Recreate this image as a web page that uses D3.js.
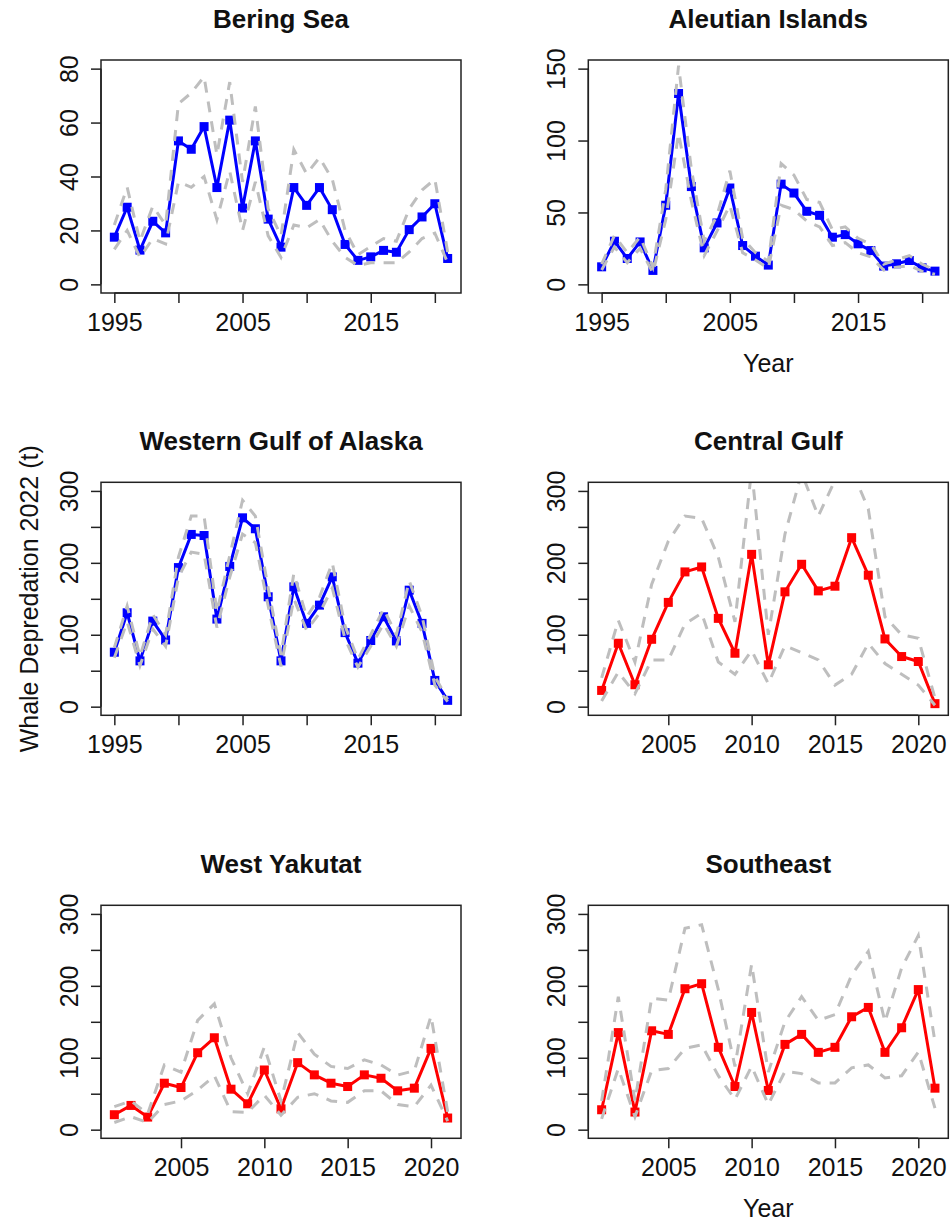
<!DOCTYPE html>
<html>
<head>
<meta charset="utf-8">
<script src="https://cdn.jsdelivr.net/npm/d3@7"></script>
<style>
  html, body { margin: 0; padding: 0; background: #fff; }
  svg { display: block; }
  text { font-family: "Liberation Sans", Arial, sans-serif; fill: #111; }
</style>
</head>
<body>
<svg id="chart" width="951" height="1221"></svg>
<script>
// ---------------- data ----------------
const titles = ["Bering Sea", "Aleutian Islands", "Western Gulf of Alaska", "Central Gulf", "West Yakutat", "Southeast"];

const yearsLong = [1995,1996,1997,1998,1999,2000,2001,2002,2003,2004,2005,2006,2007,2008,2009,2010,2011,2012,2013,2014,2015,2016,2017,2018,2019,2020,2021];
const yearsShort = [2001,2002,2003,2004,2005,2006,2007,2008,2009,2010,2011,2012,2013,2014,2015,2016,2017,2018,2019,2020,2021];

const beringEst = [17.5,28.6,12.7,23.4,19.1,53.2,50.1,58.5,35.9,60.9,28.3,53.2,24.2,13.8,35.9,29.3,35.9,27.7,14.8,8.9,10.2,12.6,11.9,20.3,25.0,29.9,9.6];
const beringHi  = [22,36,16,29,22,67,71,77,48,75,38,66,28,18,50,41,47,39,20,11,14,17,16,28,35,39,12];
const beringLo  = [13,20,10,17,15,38,36,40,24,42,20,38,18,10,22,21,24,16,10,7,8,8,8,12,17,19,8];

const aleutianEst = [12.2,30,18,29.5,9.7,55,132.7,68,25.4,42.7,67,27,19.6,13.4,69.7,63.5,50.8,48,32.8,34.6,28.2,23.5,12.7,14.3,16.6,11.5,9.2];
const aleutianHi  = [14,34,22,33,12,66,152,80,30,48,79,32,22,16,84,76,59,57,38,40,32,28,14,17,20,14,10];
const aleutianLo  = [10,26,15,25,8,45,105,58,20,37,55,22,17,11,55,52,44,40,27,29,22,19,10,12,13,9,7];

const wgoaEst = [75.7,130.6,63.7,119,92.8,193.4,239.5,238,121.8,195,262.6,247.4,152.8,63.7,166.6,115.8,141.2,180.5,103,60.5,92,125,91.4,162,115.8,36.5,8.8];
const wgoaHi  = [82,140,70,128,100,208,265,265,132,210,287,265,165,72,185,125,152,200,112,66,100,136,100,175,126,42,10];
const wgoaLo  = [68,118,57,108,84,180,215,212,110,180,240,228,140,56,150,106,130,165,94,55,84,115,84,140,104,30,7];

const cgoaEst = [22.6,88.2,30.5,93.7,145,187.4,194.3,122.8,74.3,211.8,58.2,159.7,198,161,167.5,235,182.8,94.2,69.7,62.8,4.2];
const cgoaHi  = [40,120,62,170,230,265,262,208,118,330,100,240,325,265,315,330,275,125,100,95,12];
const cgoaLo  = [8,48,18,65,65,115,130,62,45,78,32,85,75,65,30,45,88,60,45,30,2];

const wyEst = [20.8,33.7,17.5,64.6,58.6,107,127.8,56.3,36,83,29,93.2,76.2,64.6,60,76.2,71.5,54,57.7,113,16.2];
const wyHi  = [32,40,22,90,80,152,175,100,50,115,40,135,105,88,85,97,90,76,82,158,25];
const wyLo  = [10,18,10,35,40,55,75,25,24,48,20,45,50,40,38,54,54,35,32,62,12];

const seEst = [27.7,135,24.5,137.5,132.5,196,203,114.5,60,163,54.5,118.6,132.5,107.5,114.5,157,170,107.5,141.7,194.8,57.7];
const seHi  = [40,185,40,183,180,280,285,195,88,230,80,150,185,152,160,215,248,150,225,270,122];
const seLo  = [15,85,18,82,85,113,118,75,42,88,35,81,78,65,65,86,90,72,75,108,30];

const xTicksLong = [1995,2000,2005,2010,2015,2020];
const xLabelsLong = ["1995","","2005","","2015",""];
const xTicksShort = [2005,2010,2015,2020];
const xLabelsShort = ["2005","2010","2015","2020"];

const yTicksBering = [0,20,40,60,80];
const yLabelsBering = ["0","20","40","60","80"];
const yTicksAleutian = [0,50,100,150];
const yLabelsAleutian = ["0","50","100","150"];
const yTicks300 = [0,50,100,150,200,250,300];
const yLabels300 = ["0","","100","","200","","300"];

const yLimBering = [0,80];
const yLimAleutian = [0,150];
const yLim300 = [0,300];

const yAxisTitle = "Whale Depredation 2022 (t)";
const xAxisTitle = "Year";

// ---------------- panels ----------------
const panels = [
  {title: titles[0], years: yearsLong, est: beringEst, lo: beringLo, hi: beringHi, color: "#0000ff", ylim: yLimBering, yT: yTicksBering, yL: yLabelsBering, xT: xTicksLong, xL: xLabelsLong},
  {title: titles[1], years: yearsLong, est: aleutianEst, lo: aleutianLo, hi: aleutianHi, color: "#0000ff", ylim: yLimAleutian, yT: yTicksAleutian, yL: yLabelsAleutian, xT: xTicksLong, xL: xLabelsLong, xTitle: true},
  {title: titles[2], years: yearsLong, est: wgoaEst, lo: wgoaLo, hi: wgoaHi, color: "#0000ff", ylim: yLim300, yT: yTicks300, yL: yLabels300, xT: xTicksLong, xL: xLabelsLong, yTitle: true},
  {title: titles[3], years: yearsShort, est: cgoaEst, lo: cgoaLo, hi: cgoaHi, color: "#ff0000", ylim: yLim300, yT: yTicks300, yL: yLabels300, xT: xTicksShort, xL: xLabelsShort},
  {title: titles[4], years: yearsShort, est: wyEst, lo: wyLo, hi: wyHi, color: "#ff0000", ylim: yLim300, yT: yTicks300, yL: yLabels300, xT: xTicksShort, xL: xLabelsShort},
  {title: titles[5], years: yearsShort, est: seEst, lo: seLo, hi: seHi, color: "#ff0000", ylim: yLim300, yT: yTicks300, yL: yLabels300, xT: xTicksShort, xL: xLabelsShort, xTitle: true}
];

// ---------------- layout ----------------
const boxLeft = [101, 588.3];
const boxTop = [60, 482.3, 905.3];
const boxW = 360, boxH = 233;
const FONT = 25;

const svg = d3.select("#chart");

function padded(lo, hi) {
  const p = 0.04 * (hi - lo);
  return [lo - p, hi + p];
}

panels.forEach((p, i) => {
  const col = i % 2, row = Math.floor(i / 2);
  const g = svg.append("g").attr("transform", `translate(${boxLeft[col]},${boxTop[row]})`);

  const x = d3.scaleLinear().domain(padded(d3.min(p.years), d3.max(p.years))).range([0, boxW]);
  const y = d3.scaleLinear().domain(padded(p.ylim[0], p.ylim[1])).range([boxH, 0]);

  const clipId = "clip" + i;
  g.append("clipPath").attr("id", clipId).append("rect")
    .attr("x", 0).attr("y", 0).attr("width", boxW).attr("height", boxH);

  const plot = g.append("g").attr("clip-path", `url(#${clipId})`);
  const line = d3.line().x(d => x(d[0])).y(d => y(d[1]));

  // main series
  plot.append("path")
    .datum(p.years.map((yr, k) => [yr, p.est[k]]))
    .attr("d", line).attr("fill", "none")
    .attr("stroke", p.color).attr("stroke-width", 3).attr("stroke-linejoin", "round");
  plot.selectAll("rect.pt").data(p.years.map((yr, k) => [yr, p.est[k]])).join("rect")
    .attr("class", "pt")
    .attr("x", d => x(d[0]) - 4.5).attr("y", d => y(d[1]) - 4.5)
    .attr("width", 9).attr("height", 9).attr("fill", p.color);

  // confidence bounds
  [p.lo, p.hi].forEach(arr => {
    plot.append("path")
      .datum(p.years.map((yr, k) => [yr, arr[k]]))
      .attr("d", line).attr("fill", "none")
      .attr("stroke", "#bebebe").attr("stroke-width", 3)
      .attr("stroke-dasharray", "11,9");
  });

  // box
  g.append("rect").attr("x", 0).attr("y", 0).attr("width", boxW).attr("height", boxH)
    .attr("fill", "none").attr("stroke", "#222").attr("stroke-width", 1.5);

  // y axis
  const ya = g.append("g").call(
    d3.axisLeft(y).tickValues(p.yT).tickSize(10)
      .tickFormat((d, k) => p.yL[k])
  );
  ya.select(".domain").remove();
  ya.selectAll(".tick line").attr("stroke", "#222").attr("stroke-width", 1.5);
  ya.selectAll(".tick text")
    .attr("x", 0).attr("y", 0).attr("dy", 0)
    .attr("transform", "translate(-23,0) rotate(-90)")
    .attr("text-anchor", "middle")
    .style("font-size", FONT + "px")
    .style("font-family", '"Liberation Sans", Arial, sans-serif')
    .attr("fill", "#111");
  ya.append("line").attr("x1", 0).attr("x2", 0)
    .attr("y1", y(p.yT[0])).attr("y2", y(p.yT[p.yT.length - 1]))
    .attr("stroke", "#222").attr("stroke-width", 1.5);

  // x axis
  const xa = g.append("g").attr("transform", `translate(0,${boxH})`).call(
    d3.axisBottom(x).tickValues(p.xT).tickSize(10)
      .tickFormat((d, k) => p.xL[k])
  );
  xa.select(".domain").remove();
  xa.selectAll(".tick line").attr("stroke", "#222").attr("stroke-width", 1.5);
  xa.selectAll(".tick text")
    .attr("y", 38).attr("dy", 0)
    .style("font-size", FONT + "px")
    .style("font-family", '"Liberation Sans", Arial, sans-serif')
    .attr("fill", "#111");
  xa.append("line").attr("y1", 0).attr("y2", 0)
    .attr("x1", x(p.xT[0])).attr("x2", x(p.xT[p.xT.length - 1]))
    .attr("stroke", "#222").attr("stroke-width", 1.5);

  // title
  g.append("text").attr("x", boxW / 2).attr("y", -32)
    .attr("text-anchor", "middle")
    .style("font-size", "26px").style("font-weight", "bold")
    .text(p.title);

  if (p.xTitle) {
    g.append("text").attr("x", boxW / 2).attr("y", boxH + 79)
      .attr("text-anchor", "middle").style("font-size", FONT + "px")
      .text(xAxisTitle);
  }
  if (p.yTitle) {
    g.append("text")
      .attr("transform", `translate(${38 - boxLeft[col]},${boxH / 2}) rotate(-90)`)
      .attr("text-anchor", "middle").style("font-size", FONT + "px")
      .attr("fill", "#222")
      .text(yAxisTitle);
  }
});
</script>
</body>
</html>
